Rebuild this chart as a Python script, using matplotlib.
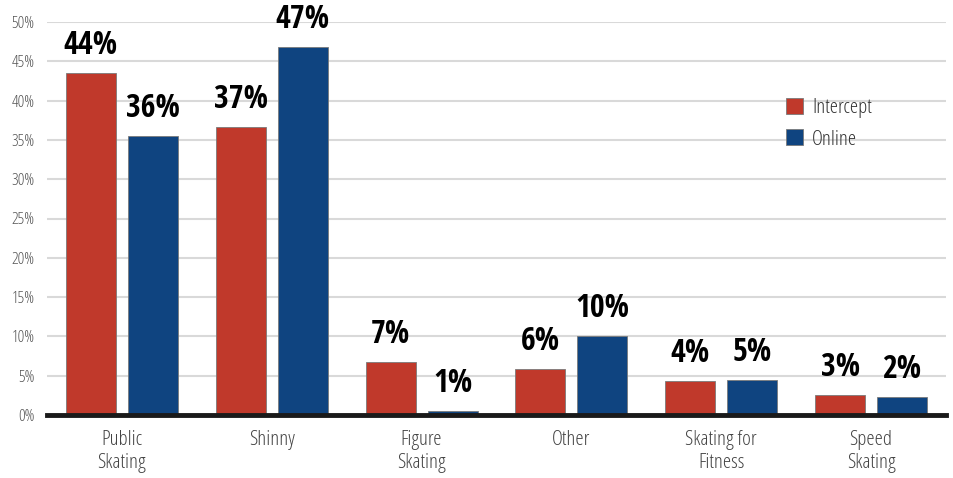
import matplotlib
matplotlib.use("Agg")
import matplotlib.pyplot as plt
import numpy as np
from matplotlib.patches import Patch

categories = ["Public\nSkating", "Shinny", "Figure\nSkating", "Other",
              "Skating for\nFitness", "Speed\nSkating"]
intercept = [43.5, 36.6, 6.7, 5.8, 4.3, 2.5]
online = [35.5, 46.8, 0.5, 10.0, 4.45, 2.25]
intercept_labels = ["44%", "37%", "7%", "6%", "4%", "3%"]
online_labels = ["36%", "47%", "1%", "10%", "5%", "2%"]
yticks = [0, 5, 10, 15, 20, 25, 30, 35, 40, 45, 50]

RED = "#c0392b"
BLUE = "#0f4480"
LIGHT = dict(family=["Open Sans", "DejaVu Sans"], stretch="condensed", weight=300)
BOLD = dict(family=["Open Sans Condensed", "DejaVu Sans"], stretch="condensed", weight=700)

fig = plt.figure(figsize=(9.54, 4.78), dpi=100)
ax = fig.add_axes([47 / 954, 1 - 415 / 478, 899 / 954, 393 / 478])

x = np.arange(len(categories))
w = 0.334
off = 0.207
b1 = ax.bar(x - off, intercept, w, color=RED, edgecolor="#7a7a7a", linewidth=0.6, zorder=3)
b2 = ax.bar(x + off, online, w, color=BLUE, edgecolor="#7a7a7a", linewidth=0.6, zorder=3)

for bars, labels in ((b1, intercept_labels), (b2, online_labels)):
    for bar, lab in zip(bars, labels):
        ax.annotate(lab, (bar.get_x() + bar.get_width() / 2, bar.get_height()),
                    xytext=(0, 8), textcoords="offset points", ha="center",
                    va="bottom", fontsize=23, color="black",
                    annotation_clip=False, zorder=4, **BOLD)

ax.set_xlim(-0.5, len(categories) - 0.5)
ax.set_ylim(0, 50)
ax.set_yticks(yticks)
ax.set_yticklabels([f"{t}%" for t in yticks], fontsize=12, color="#555555", **LIGHT)
ax.set_xticks(x)
ax.set_xticklabels(categories, fontsize=15, color="#444444", linespacing=1.2, **LIGHT)
ax.tick_params(axis="both", length=0)
ax.tick_params(axis="x", pad=11)
ax.tick_params(axis="y", pad=9)

ax.yaxis.grid(True, color="#d9d9d9", linewidth=1.5, zorder=0)
ax.set_axisbelow(True)
for s in ("top", "right", "left"):
    ax.spines[s].set_visible(False)
ax.spines["bottom"].set_linewidth(3.5)
ax.spines["bottom"].set_color("#1a1a1a")
ax.spines["bottom"].set_zorder(5)

handles = [Patch(facecolor=RED, edgecolor="#7a7a7a", linewidth=0.6, label="Intercept"),
           Patch(facecolor=BLUE, edgecolor="#7a7a7a", linewidth=0.6, label="Online")]
leg = ax.legend(handles=handles, loc="upper left", bbox_to_anchor=(0.801, 0.855),
                frameon=False, handlelength=0.8, handleheight=0.8,
                handletextpad=0.45, labelspacing=0.55,
                prop=dict(size=15, **LIGHT))
for t in leg.get_texts():
    t.set_color("#333333")

fig.savefig("out.png", dpi=100)
